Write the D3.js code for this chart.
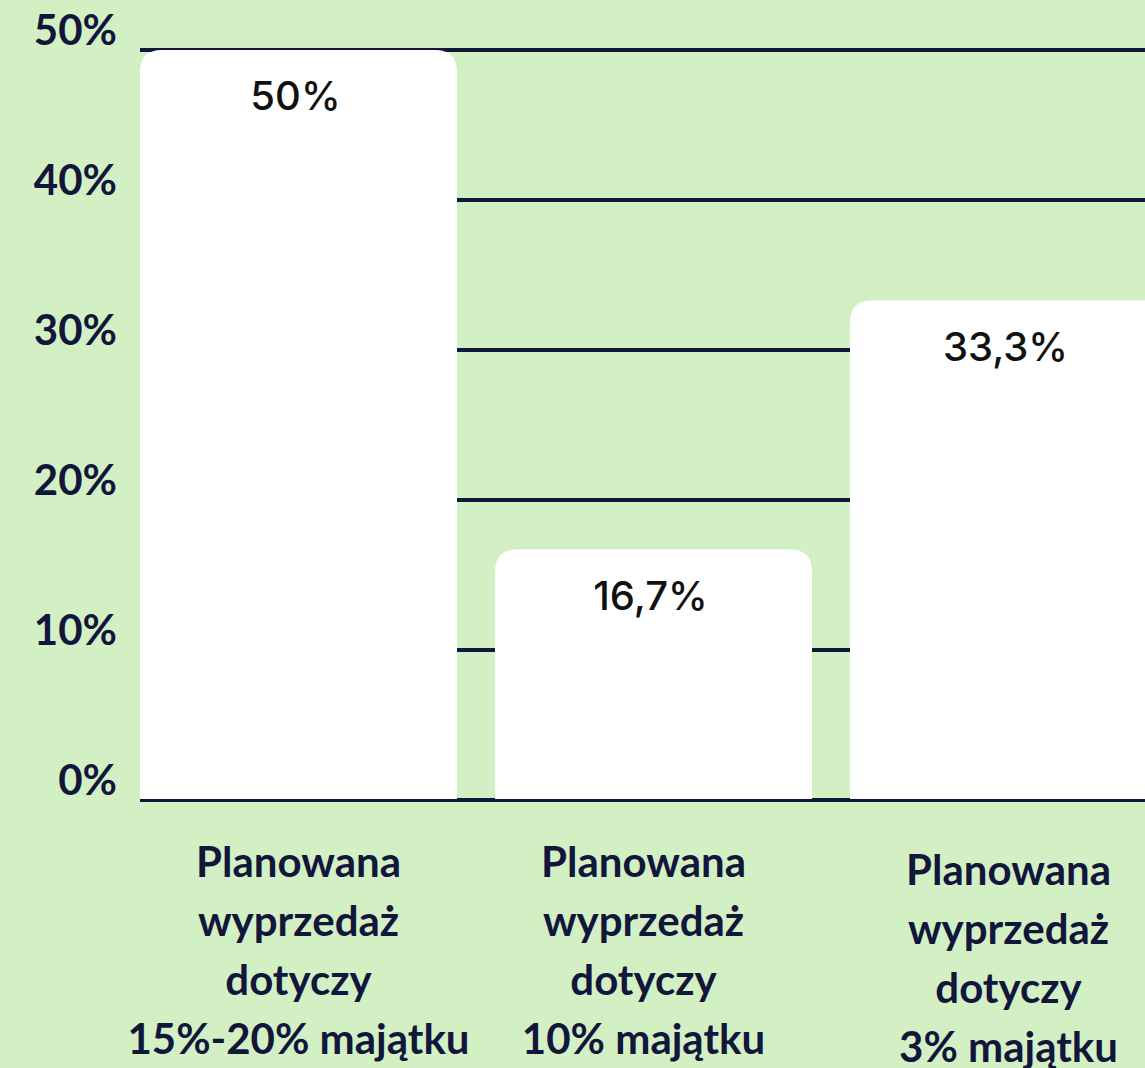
<!DOCTYPE html>
<html><head><meta charset="utf-8">
<script src="https://cdn.jsdelivr.net/npm/d3@7/dist/d3.min.js"></script>
<style>html,body{margin:0;padding:0;background:#d3f0c5;overflow:hidden}</style>
</head><body>
<svg id="c" width="1145" height="1068"></svg>
<script>
const categories = [
  ["Planowana", "wyprzedaż", "dotyczy", "15%-20% majątku"],
  ["Planowana", "wyprzedaż", "dotyczy", "10% majątku"],
  ["Planowana", "wyprzedaż", "dotyczy", "3% majątku"]
];
const values = [50, 16.7, 33.3];
const valueLabels = ["50%", "16,7%", "33,3%"];
const yTicks = [0, 10, 20, 30, 40, 50];

const W = 1145, H = 1068;
const navy = "#12163a";
const svg = d3.select("#c");
svg.append("rect").attr("width", W).attr("height", H).attr("fill", "#d3f0c5");

const x = d3.scaleBand().domain(d3.range(categories.length))
  .range([121, 1186]).paddingInner(0.107).paddingOuter(0.0535);
const y = d3.scaleLinear().domain([0, 50]).range([800, 50]);

// gridlines
svg.append("g").selectAll("line").data(yTicks).join("line")
  .attr("x1", 140).attr("x2", W)
  .attr("y1", d => y(d)).attr("y2", d => y(d))
  .attr("stroke", navy).attr("stroke-width", 4);

// tick labels
svg.append("g").selectAll("text").data(yTicks).join("text")
  .attr("x", 117).attr("y", d => y(d) - 5)
  .attr("text-anchor", "end")
  .attr("font-family", "Lato").attr("font-weight", 700).attr("font-size", 42)
  .attr("fill", navy).text(d => d + "%");

// bars with rounded top corners
const r = 22;
function barPath(x0, w, yTop, yBot) {
  const rr = Math.min(r, (yBot - yTop), w / 2);
  return `M${x0},${yBot}V${yTop + rr}Q${x0},${yTop} ${x0 + rr},${yTop}H${x0 + w - rr}Q${x0 + w},${yTop} ${x0 + w},${yTop + rr}V${yBot}Z`;
}
svg.append("g").selectAll("path").data(values).join("path")
  .attr("d", (d, i) => barPath(x(i), x.bandwidth(), y(d), y(0)))
  .attr("fill", "#ffffff");

// baseline
svg.append("line").attr("x1", 140).attr("x2", W).attr("y1", y(0)).attr("y2", y(0))
  .attr("stroke", navy).attr("stroke-width", 2);

// value labels
svg.append("g").selectAll("text").data(values).join("text")
  .attr("x", (d, i) => x(i) + x.bandwidth() / 2 - 3)
  .attr("y", d => y(d) + 60)
  .attr("text-anchor", "middle")
  .attr("font-family", "Inter").attr("font-weight", 500).attr("font-size", 40)
  .attr("fill", "#111111")
  .text((d, i) => valueLabels[i]);

// category labels
const cat = svg.append("g").selectAll("text").data(categories).join("text")
  .attr("text-anchor", "middle")
  .attr("font-family", "Lato").attr("font-weight", 700).attr("font-size", 42)
  .attr("fill", navy)
  .attr("transform", (d, i) => `translate(${x(i) + x.bandwidth() / 2 - (i === 1 ? 10 : 0)},${i === 2 ? 885 : 877})`);
cat.selectAll("tspan").data(d => d).join("tspan")
  .attr("x", 0).attr("dy", (d, j) => j === 0 ? 0 : 59).text(d => d);
</script>
</body></html>
